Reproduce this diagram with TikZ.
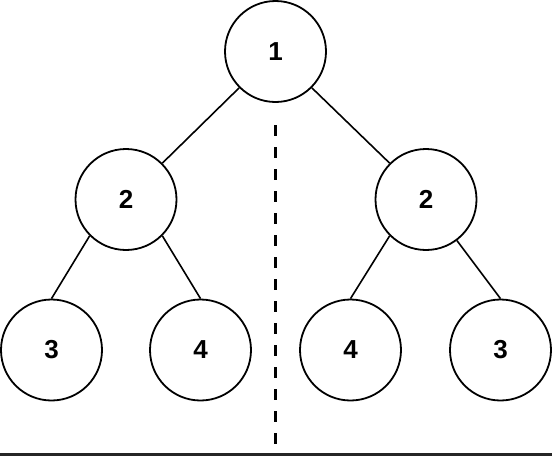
\documentclass[tikz,border=0pt]{standalone}
\usepackage{fontspec}
\setmainfont{Liberation Sans}
\begin{document}
\begin{tikzpicture}[x=1pt,y=-1pt,
  tn/.style={circle,draw=black,line width=1.8pt,minimum size=101pt,inner sep=0pt,font=\fontsize{26}{26}\selectfont\bfseries},
  edge/.style={line width=1.6pt,draw=black}]
\useasboundingbox (0,0) rectangle (552,456);
\node[tn] (r) at (275.5,51.5) {1};
\node[tn] (l) at (126,199.5) {2};
\node[tn] (rr) at (426,199.5) {2};
\node[tn] (l1) at (51.5,350) {3};
\node[tn] (l2) at (200.5,350) {4};
\node[tn] (r1) at (350.5,350) {4};
\node[tn] (r2) at (500.5,350) {3};
\draw[edge] (r.225) -- (l.45);
\draw[edge] (r.315) -- (rr.135);
\draw[edge] (l.225) -- (l1.north);
\draw[edge] (l.315) -- (l2.north);
\draw[edge] (rr.225) -- (r1.north);
\draw[edge] (rr.307) -- (r2.north);
\coordinate (dtop) at (275.5,125);
\coordinate (dbot) at (275.5,453);
\draw[line width=3pt,dash pattern=on 11pt off 11pt] (dtop) -- (dbot);
\coordinate (bl) at (0,454.5);
\coordinate (br) at (552,454.5);
\draw[line width=3pt,draw=black!85] (bl) -- (br);
\end{tikzpicture}
\end{document}
